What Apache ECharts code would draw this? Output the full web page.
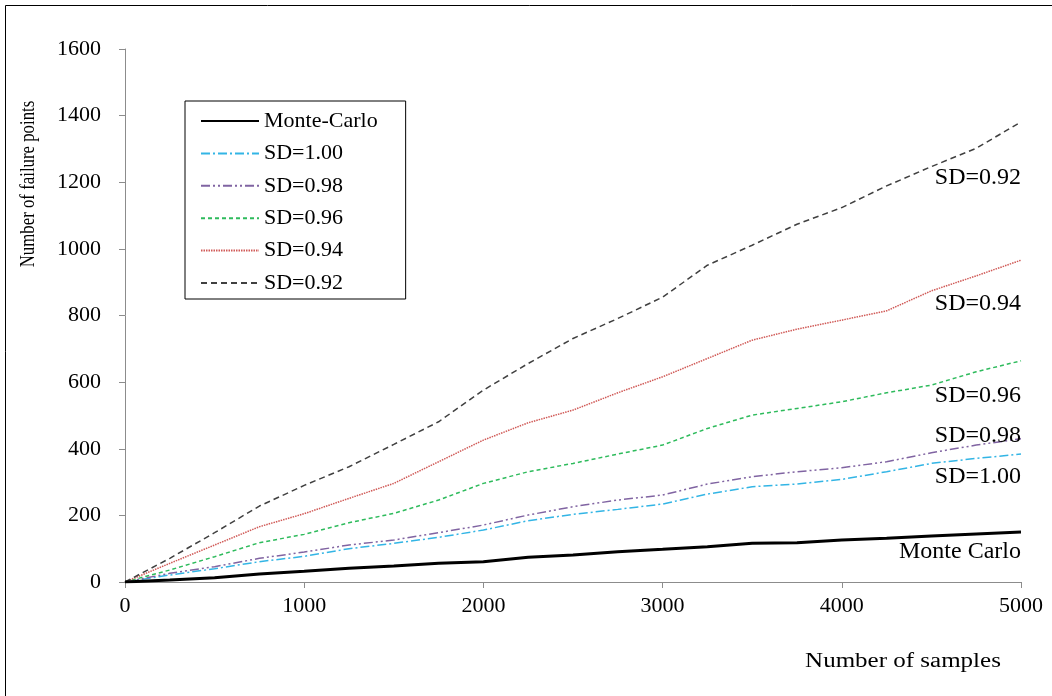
<!DOCTYPE html>
<html><head><meta charset="utf-8">
<script src="https://cdn.jsdelivr.net/npm/echarts@6/dist/echarts.min.js"></script>
<style>html,body{margin:0;padding:0;background:#fff}#c{width:1052px;height:696px}</style>
</head><body><div id="c"></div>
<script>
const samples = [0,250,500,750,1000,1250,1500,1750,2000,2250,2500,2750,3000,3250,3500,3750,4000,4250,4500,4750,5000];
const monteCarlo = [0,6,13,24,32,41,48,56,61,74,81,91,98,106,116,118,126,131,138,144,150];
const sd100 = [0,21,40,61,77,100,116,134,156,184,203,218,234,264,286,294,308,331,356,371,384];
const sd098 = [0,26,46,71,90,111,126,148,171,201,226,246,261,294,316,331,343,361,388,411,430];
const sd096 = [0,36,76,118,143,178,206,246,296,331,356,384,411,461,501,521,541,568,591,631,664];
const sd094 = [0,56,111,166,205,251,296,361,426,478,516,568,616,671,726,759,786,814,874,919,966];
const sd092 = [0,71,148,228,290,346,413,481,576,656,731,791,855,951,1011,1074,1124,1189,1247,1302,1381];
const xTicks = [0,1000,2000,3000,4000,5000];
const yTicks = [0,200,400,600,800,1000,1200,1400,1600];

const FONT = "'Liberation Serif','DejaVu Serif',serif";
function pts(arr){ return samples.map((x,i)=>[x,arr[i]]); }
function endMark(arr, text, dy){
  return {
    symbol: 'circle', symbolSize: 0, silent: true, animation: false,
    data: [{ coord: [samples[samples.length-1], arr[arr.length-1]],
      label: { show: true, formatter: text, position: 'inside', align: 'right', verticalAlign: 'middle',
        offset: [0, dy], fontFamily: FONT, fontSize: 24, color: '#000' } }]
  };
}
const seriesDefs = [
  { name: 'Monte-Carlo', data: monteCarlo, color: '#000000', width: 3, type: 'solid', label: 'Monte Carlo', dy: 20 },
  { name: 'SD=1.00', data: sd100, color: '#33B5E5', width: 1.5, type: [9,3,2,3], label: 'SD=1.00', dy: 23 },
  { name: 'SD=0.98', data: sd098, color: '#8064A2', width: 1.5, type: [9,3,2,3,2,3], label: 'SD=0.98', dy: -3 },
  { name: 'SD=0.96', data: sd096, color: '#2EBB5C', width: 1.5, type: [4,3], label: 'SD=0.96', dy: 35 },
  { name: 'SD=0.94', data: sd094, color: '#D05A57', width: 1.5, type: [1.5,1], label: 'SD=0.94', dy: 44 },
  { name: 'SD=0.92', data: sd092, color: '#404040', width: 1.5, type: [6,4], label: 'SD=0.92', dy: 56 }
];
const chart = echarts.init(document.getElementById('c'), null, {renderer:'canvas'});
chart.setOption({
  animation: false,
  backgroundColor: '#fff',
  grid: { left: 125, right: 31, top: 49, bottom: 114, containLabel: false },
  xAxis: {
    type: 'value', min: 0, max: 5000, interval: 1000,
    axisLine: { lineStyle: { color: '#8c8c8c', width: 1 } },
    axisTick: { show: true, length: 6, lineStyle: { color: '#8c8c8c' } },
    splitLine: { show: false },
    axisLabel: { margin: 13, fontFamily: FONT, fontSize: 22, color: '#000',
      formatter: v => xTicks.includes(v) ? String(v) : '' }
  },
  yAxis: {
    type: 'value', min: 0, max: 1600, interval: 200,
    axisLine: { show: true, lineStyle: { color: '#8c8c8c', width: 1 } },
    axisTick: { show: true, length: 6, lineStyle: { color: '#8c8c8c' } },
    splitLine: { show: false },
    axisLabel: { margin: 24, fontFamily: FONT, fontSize: 22, color: '#000',
      formatter: v => yTicks.includes(v) ? String(v) : '' }
  },
  legend: {
    show: true, orient: 'vertical', left: 185, top: 101,
    backgroundColor: '#fff', borderColor: '#000', borderWidth: 1,
    padding: [9, 28, 5, 15], itemGap: 10.4, itemWidth: 58, itemHeight: 20,
    itemStyle: { opacity: 0 },
    textStyle: { fontFamily: FONT, fontSize: 22, color: '#000' },
    data: seriesDefs.map(s => s.name)
  },
  series: seriesDefs.map(s => ({
    name: s.name, type: 'line', data: pts(s.data), symbol: 'none', showSymbol: false,
    smooth: false, z: s.name === 'Monte-Carlo' ? 3 : 2,
    lineStyle: { color: s.color, width: s.width, type: s.type },
    itemStyle: { color: s.color },
    markPoint: endMark(s.data, s.label, s.dy)
  })),
  graphic: [
    { type: 'rect', shape: { x: 5.5, y: 5.5, width: 1200, height: 900 }, style: { fill: null, stroke: '#000', lineWidth: 1 }, silent: true, z: -1 },
    { type: 'text', x: 28, y: 184, rotation: Math.PI/2, scaleX: 0.8, style: { text: 'Number of failure points', font: '21px ' + FONT, fill: '#000', align: 'center', verticalAlign: 'middle' } },
    { type: 'text', x: 903, y: 662, scaleX: 1.25, style: { text: 'Number of samples', font: '20px ' + FONT, fill: '#000', align: 'center', verticalAlign: 'middle' } }
  ]
});
</script></body></html>
